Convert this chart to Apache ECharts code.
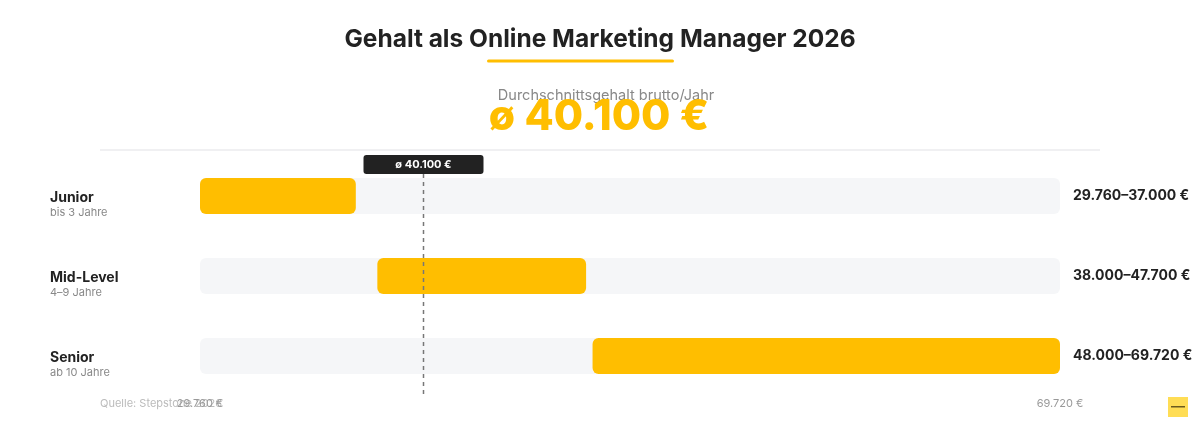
<!DOCTYPE html>
<html>
<head>
<meta charset="utf-8">
<script src="https://cdn.jsdelivr.net/npm/echarts@6/dist/echarts.min.js"></script>
<style>
html,body{margin:0;padding:0;background:#fff;}
#chart{width:1200px;height:424px;}
</style>
</head>
<body>
<div id="chart"></div>
<script>
// ---- data ----
const levels = ['Junior', 'Mid-Level', 'Senior'];
const experience = ['bis 3 Jahre', '4–9 Jahre', 'ab 10 Jahre'];
const lowValues = [29760, 38000, 48000];
const highValues = [37000, 47700, 69720];
const axisMin = 29760;
const axisMax = 69720;
const average = 40100;
const titleText = 'Gehalt als Online Marketing Manager 2026';
const subtitleText = 'Durchschnittsgehalt brutto/Jahr';
const sourceText = 'Quelle: Stepstone 2026';

const FONT = 'Inter, "Noto Sans", sans-serif';
const YELLOW = '#FFBE00';

function fmt(n) {
  return String(n).replace(/\B(?=(\d{3})+(?!\d))/g, '.');
}

const chart = echarts.init(document.getElementById('chart'), null, {renderer: 'canvas'});

const trackData = levels.map((_, i) => [i, axisMin, axisMax]);
const barData = levels.map((_, i) => [i, lowValues[i], highValues[i]]);

function rectItem(params, api, color) {
  const cat = api.value(0);
  const p0 = api.coord([api.value(1), cat]);
  const p1 = api.coord([api.value(2), cat]);
  const h = 36;
  return {
    type: 'rect',
    shape: {x: p0[0], y: p0[1] - h / 2, width: p1[0] - p0[0], height: h, r: 6},
    style: {fill: color}
  };
}

const option = {
  backgroundColor: '#ffffff',
  animation: false,
  textStyle: {fontFamily: FONT},
  grid: {left: 200, right: 140, top: 156, bottom: 28},
  xAxis: {
    type: 'value',
    min: axisMin,
    max: axisMax,
    splitLine: {show: false},
    axisLine: {show: false},
    axisTick: {show: false},
    axisLabel: {
      showMinLabel: true,
      showMaxLabel: true,
      margin: 2,
      color: '#999',
      fontSize: 11,
      fontFamily: FONT,
      formatter: function (v) {
        return (v === axisMin || v === axisMax) ? fmt(v) + ' €' : '';
      }
    }
  },
  yAxis: [{
    type: 'category',
    data: levels,
    inverse: true,
    position: 'left',
    axisLine: {show: false},
    axisTick: {show: false},
    splitLine: {show: false},
    axisLabel: {
      align: 'left',
      margin: 150,
      padding: [18, 0, 0, 0],
      formatter: function (v, i) {
        return '{t|' + v + '}\n{s|' + experience[i] + '}';
      },
      rich: {
        t: {fontSize: 14, fontWeight: 'bold', color: '#222', lineHeight: 16, fontFamily: FONT},
        s: {fontSize: 11, color: '#888', lineHeight: 14, fontFamily: FONT}
      }
    }
  }, {
    type: 'category',
    data: levels,
    inverse: true,
    position: 'right',
    axisLine: {show: false},
    axisTick: {show: false},
    splitLine: {show: false},
    axisLabel: {
      align: 'left',
      margin: 13,
      padding: [3, 0, 0, 0],
      color: '#222',
      fontSize: 14,
      fontWeight: 'bold',
      fontFamily: FONT,
      formatter: function (v, i) {
        return fmt(lowValues[i]) + '–' + fmt(highValues[i]) + ' €';
      }
    }
  }],
  series: [{
    type: 'custom',
    name: 'track',
    data: trackData,
    encode: {x: [1, 2], y: 0},
    renderItem: function (params, api) { return rectItem(params, api, '#F5F6F8'); }
  }, {
    type: 'custom',
    name: 'range',
    data: barData,
    encode: {x: [1, 2], y: 0},
    renderItem: function (params, api) { return rectItem(params, api, YELLOW); }
  }, {
    type: 'custom',
    name: 'avg',
    data: [[average]],
    encode: {x: 0},
    clip: false,
    z: 5,
    renderItem: function (params, api) {
      const v = api.value(0);
      const top = api.coord([v, 0]);
      const bot = api.coord([v, levels.length - 1]);
      const band = api.size([0, 1])[1];
      const x = Math.round(top[0]) + 0.5;
      const y0 = top[1] - 22;
      const y1 = bot[1] + band / 2 - 1;
      return {
        type: 'group',
        children: [{
          type: 'line',
          shape: {x1: x, y1: y0, x2: x, y2: y1},
          style: {stroke: '#777', lineWidth: 1.5, lineDash: [4, 4]}
        }, {
          type: 'rect',
          shape: {x: x - 60, y: y0 - 19, width: 120, height: 19, r: 3},
          style: {fill: '#222'}
        }, {
          type: 'text',
          style: {
            x: x, y: y0 - 9.5,
            text: 'ø ' + fmt(v) + ' €',
            fill: '#fff',
            font: 'bold 11px ' + FONT,
            align: 'center', verticalAlign: 'middle',
            textAlign: 'center', textVerticalAlign: 'middle'
          }
        }]
      };
    }
  }],
  graphic: [{
    type: 'text', x: 600, y: 40,
    style: {
      text: titleText, fill: '#222',
      font: 'bold 24.5px ' + FONT,
      align: 'center', verticalAlign: 'middle',
      textAlign: 'center', textVerticalAlign: 'middle'
    }
  }, {
    type: 'rect',
    shape: {x: 487, y: 59.5, width: 187, height: 3, r: 1.5},
    style: {fill: YELLOW}
  }, {
    type: 'text', x: 606, y: 96,
    style: {
      text: subtitleText, fill: '#888',
      font: '14.5px ' + FONT,
      align: 'center', verticalAlign: 'middle',
      textAlign: 'center', textVerticalAlign: 'middle'
    }
  }, {
    type: 'text', x: 599, y: 117,
    style: {
      text: 'ø ' + fmt(average) + ' €', fill: YELLOW,
      font: '800 42.5px ' + FONT,
      align: 'center', verticalAlign: 'middle',
      textAlign: 'center', textVerticalAlign: 'middle'
    }
  }, {
    type: 'rect',
    shape: {x: 100, y: 149, width: 1000, height: 2},
    style: {fill: '#F0F0F2'}
  }, {
    type: 'text', x: 100, y: 404,
    style: {
      text: sourceText, fill: '#bbb',
      font: '11px ' + FONT,
      align: 'left', verticalAlign: 'middle',
      textAlign: 'left', textVerticalAlign: 'middle'
    }
  }, {
    type: 'rect',
    shape: {x: 1168, y: 397, width: 20, height: 20},
    style: {fill: '#FFDD55'}
  }, {
    type: 'rect',
    shape: {x: 1171, y: 406, width: 14, height: 1.5},
    style: {fill: '#6b5a1e'}
  }]
};

chart.setOption(option);
</script>
</body>
</html>
